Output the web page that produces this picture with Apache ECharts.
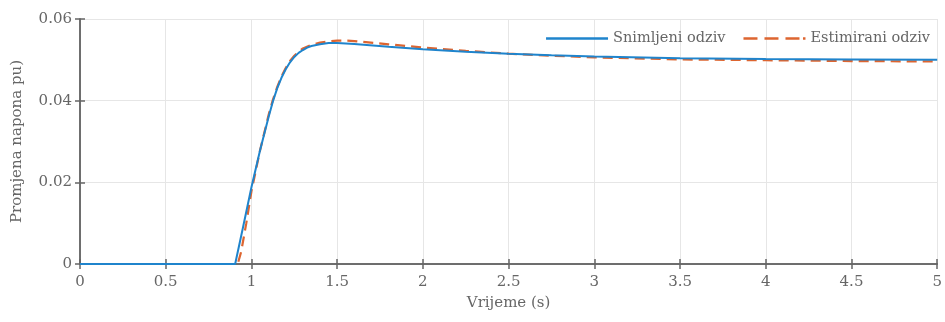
<!DOCTYPE html>
<html><head><meta charset="utf-8">
<script src="https://cdn.jsdelivr.net/npm/echarts@6/dist/echarts.min.js"></script>
<style>html,body{margin:0;padding:0;background:#fff}#c{width:945px;height:322px}</style>
</head><body><div id="c"></div>
<script>
const measuredT = [0, 0.905, 0.95, 1.0, 1.05, 1.1, 1.125, 1.15, 1.175, 1.2, 1.225, 1.25, 1.275, 1.3, 1.325, 1.35, 1.4, 1.45, 1.5, 1.6, 1.8, 2.0, 2.25, 2.5, 2.75, 3.0, 3.5, 4.0, 4.5, 5.0];
const measuredV = [0, 0, 0.0088, 0.0188, 0.0278, 0.0360, 0.0398, 0.0430, 0.0456, 0.0477, 0.0494, 0.0507, 0.0517, 0.0524, 0.0530, 0.0534, 0.0538, 0.0541, 0.0541, 0.0539, 0.0532, 0.0526, 0.0520, 0.0515, 0.0511, 0.0508, 0.0504, 0.0502, 0.0501, 0.0500];
const estimT = [0, 0.92, 0.94, 0.97, 1.0, 1.05, 1.1, 1.125, 1.15, 1.175, 1.2, 1.225, 1.25, 1.275, 1.3, 1.35, 1.4, 1.45, 1.5, 1.55, 1.6, 1.8, 2.0, 2.25, 2.5, 2.75, 3.0, 3.5, 4.0, 4.5, 5.0];
const estimV = [0, 0, 0.003, 0.0100, 0.0178, 0.0278, 0.0365, 0.0402, 0.0433, 0.0459, 0.0480, 0.0497, 0.0510, 0.0520, 0.0528, 0.0537, 0.0542, 0.0545, 0.0547, 0.0547, 0.0546, 0.0538, 0.0530, 0.0522, 0.0515, 0.0510, 0.0506, 0.0501, 0.0499, 0.0497, 0.0496];
const seriesNames = ['Snimljeni odziv', 'Estimirani odziv'];
const xTitle = 'Vrijeme (s)';
const yTitle = 'Promjena napona pu)';

const font = '"DejaVu Serif", "Liberation Serif", serif';
const txt = '#666';
const axisCol = '#666';
const blue = '#1f84cc', orange = '#dd6530';
const chart = echarts.init(document.getElementById('c'), null, {renderer: 'canvas'});
const zip = (a, b) => a.map((t, i) => [t, b[i]]);
chart.setOption({
  animation: false,
  grid: {left: 80, right: 4, top: 19, bottom: 58, containLabel: false},
  legend: {
    top: 26, right: 10, itemWidth: 62, itemHeight: 2.5, itemGap: 18,
    textStyle: {fontFamily: font, fontSize: 14.5, color: txt, padding: [0, 0, 0, 0]},
    data: [
      {name: seriesNames[0], icon: 'path://M0,0h62v2.5h-62z', itemStyle: {color: blue}},
      {name: seriesNames[1], icon: 'path://M0,0h14v2.5h-14z M21,0h14v2.5h-14z M42,0h14v2.5h-14z M59.5,0h2.5v2.5h-2.5z', itemStyle: {color: orange}}
    ]
  },
  xAxis: [{
    type: 'value', min: 0, max: 5, interval: 0.5,
    name: xTitle, nameLocation: 'middle', nameGap: 32,
    nameTextStyle: {fontFamily: font, fontSize: 15, color: txt},
    axisLine: {show: true, onZero: false, lineStyle: {color: axisCol, width: 1.5}},
    axisTick: {show: true, inside: true, length: 5, lineStyle: {color: axisCol, width: 1.5}},
    axisLabel: {fontFamily: font, fontSize: 15, color: txt, margin: 11},
    splitLine: {show: true, lineStyle: {color: '#e6e6e6', width: 1}}
  }, {
    type: 'value', min: 0, max: 5, interval: 0.5, position: 'top',
    axisLine: {show: true, lineStyle: {color: axisCol, width: 1.5}},
    axisTick: {show: true, inside: true, length: 5, lineStyle: {color: axisCol, width: 1.5}},
    axisLabel: {show: false}, splitLine: {show: false}
  }],
  yAxis: [{
    type: 'value', min: 0, max: 0.06, interval: 0.02,
    name: yTitle, nameLocation: 'middle', nameGap: 55,
    nameTextStyle: {fontFamily: font, fontSize: 15, color: txt},
    axisLine: {show: true, onZero: false, lineStyle: {color: axisCol, width: 1.5}},
    axisTick: {show: true, inside: true, length: 5, lineStyle: {color: axisCol, width: 1.5}},
    axisLabel: {fontFamily: font, fontSize: 15, color: txt, margin: 8,
      formatter: v => v === 0 ? '0' : v.toFixed(2)},
    splitLine: {show: true, lineStyle: {color: '#e6e6e6', width: 1}}
  }, {
    type: 'value', min: 0, max: 0.06, interval: 0.02, position: 'right',
    axisLine: {show: true, lineStyle: {color: axisCol, width: 1.5}},
    axisTick: {show: true, inside: true, length: 5, lineStyle: {color: axisCol, width: 1.5}},
    axisLabel: {show: false}, splitLine: {show: false}
  }],
  series: [{
    name: seriesNames[0], type: 'line', symbol: 'none', smooth: false,
    data: zip(measuredT, measuredV),
    lineStyle: {color: blue, width: 2}, itemStyle: {color: blue}, z: 3
  }, {
    name: seriesNames[1], type: 'line', symbol: 'none', smooth: false,
    data: zip(estimT, estimV),
    lineStyle: {color: orange, width: 2.2, type: [10, 6]}, itemStyle: {color: orange}, z: 2
  }]
});
</script></body></html>
